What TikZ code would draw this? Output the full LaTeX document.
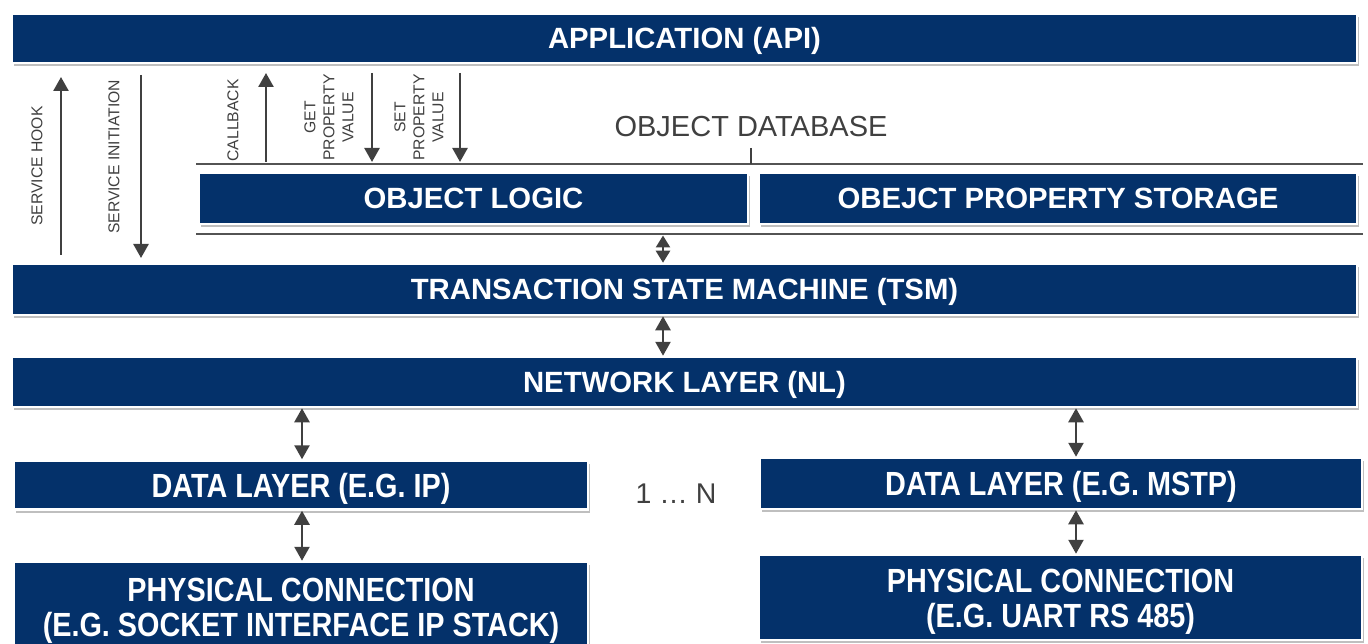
\documentclass[tikz,border=0pt]{standalone}
\usepackage{fontspec}
\setmainfont{Liberation Sans}
\newfontfamily\cbf{Liberation Sans}[FakeStretch=0.86]
\usetikzlibrary{arrows.meta,shadows}
\definecolor{navy}{HTML}{04316A}
\definecolor{ink}{HTML}{404040}
\tikzset{
  boxbase/.style={fill=navy, draw=white, line width=2.5pt, inner sep=0pt,
    text=white, align=center, text depth=0pt,
    drop shadow={shadow xshift=1.5pt, shadow yshift=-3pt, opacity=0.25, fill=black}},
  layerbox/.style={boxbase, text height=21pt, font=\bfseries\fontsize{29.3}{35}\selectfont},
  lowbox/.style={boxbase, text height=24pt, font=\cbf\bfseries\fontsize{33.5}{35}\selectfont},
  pcbox/.style={boxbase, text height=59pt, font=\cbf\bfseries\fontsize{33.5}{35}\selectfont},
  smalllabel/.style={rotate=90, align=center, text=ink, inner sep=0pt,
    font=\fontsize{15.7}{19}\selectfont},
  tip/.tip={Triangle[width=15pt,length=14pt]},
  stip/.tip={Triangle[width=14pt,length=12pt]},
  arr/.style={draw=ink, line width=2.5pt, -tip},
  dbl/.style={draw=ink, line width=2.5pt, tip-tip},
  sdbl/.style={draw=ink, line width=2.5pt, stip-stip},
  rule/.style={draw=ink!90, line width=1.6pt}
}
\begin{document}
\begin{tikzpicture}[x=1pt,y=-1pt]
\useasboundingbox (0,0) rectangle (1368,644);
% boxes
\node[layerbox, minimum width=1345pt, minimum height=49pt] (app) at (684.5,38.5) {APPLICATION (API)};
\node[layerbox, minimum width=549pt, minimum height=51pt] (ol) at (473.5,198.5) {OBJECT LOGIC};
\node[layerbox, minimum width=598pt, minimum height=51pt] (ops) at (1058,198.5) {OBEJCT PROPERTY STORAGE};
\node[layerbox, minimum width=1345pt, minimum height=51pt] (tsm) at (684.5,289.5) {TRANSACTION STATE MACHINE (TSM)};
\node[layerbox, minimum width=1345pt, minimum height=50pt] (nl) at (684.5,382) {NETWORK LAYER (NL)};
\node[lowbox, minimum width=574pt, minimum height=49pt] (dll) at (301,485) {DATA LAYER (E.G. IP)};
\node[lowbox, minimum width=602pt, minimum height=51pt] (dlr) at (1061,483.5) {DATA LAYER (E.G. MSTP)};
\node[pcbox, minimum width=574pt, minimum height=90pt] (pcl) at (301,607) {PHYSICAL CONNECTION\\(E.G. SOCKET INTERFACE IP STACK)};
\node[pcbox, minimum width=603pt, minimum height=85pt] (pcr) at (1060.5,597.5) {PHYSICAL CONNECTION\\(E.G. UART RS 485)};
% object database frame
\coordinate (t1) at (196,164);
\coordinate (t2) at (1363,164);
\coordinate (b1) at (196,234);
\coordinate (b2) at (1363,234);
\coordinate (tick) at (751,148);
\draw[rule] (t1) -- (t2);
\draw[rule] (b1) -- (b2);
\draw[ink, line width=1.2pt] (tick) -- (tick |- t1);
\node[text=ink, inner sep=0pt, font=\fontsize{29}{32}\selectfont] (odb) at (751,127) {OBJECT DATABASE};
\node[text=ink, inner sep=0pt, font=\fontsize{28.5}{32}\selectfont] (dots) at (676,494) {1 \dots{} N};
% side labels
\node[smalllabel] (shl) at (37,166) {SERVICE HOOK};
\node[smalllabel] (sil) at (114,157) {SERVICE INITIATION};
\node[smalllabel] (cbl) at (233,120.5) {CALLBACK};
\node[smalllabel] (gpl) at (329,117.5) {GET\\PROPERTY\\VALUE};
\node[smalllabel] (spl) at (419,117.5) {SET\\PROPERTY\\VALUE};
% single arrows
\coordinate (sh) at (61,255);
\coordinate (si) at (141,75);
\coordinate (cb) at (266,162);
\coordinate (gp) at (372,73);
\coordinate (sp) at (460,73);
\draw[arr] (sh) -- (sh |- 0,77);
\draw[arr] (si) -- (si |- 0,258);
\draw[arr] (cb) -- (cb |- 0,73);
\draw[arr] (gp) -- (gp |- 0,162);
\draw[arr] (sp) -- (sp |- 0,162);
% double arrows
\coordinate (xc) at (663,0);
\coordinate (xl) at (302,0);
\coordinate (xr) at (1076,0);
\draw[sdbl] (b1 -| xc) ++(0,1.5) -- (tsm.north -| xc);
\draw[dbl] (tsm.south -| xc) -- (nl.north -| xc);
\draw[dbl] (nl.south -| xl) -- (dll.north -| xl);
\draw[dbl] (dll.south -| xl) -- (pcl.north -| xl);
\draw[dbl] (nl.south -| xr) -- (dlr.north -| xr);
\draw[dbl] (dlr.south -| xr) -- (pcr.north -| xr);
\end{tikzpicture}
\end{document}
